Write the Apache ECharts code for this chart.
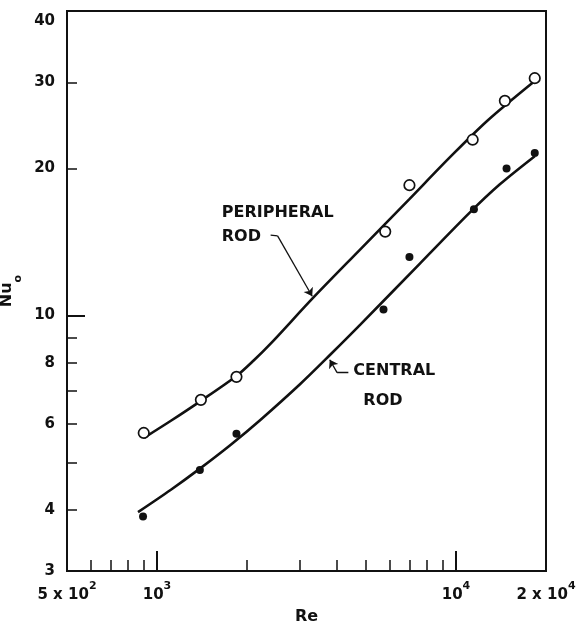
<!DOCTYPE html>
<html><head><meta charset="utf-8">
<script src="https://cdn.jsdelivr.net/npm/echarts@6/dist/echarts.min.js"></script>
<style>html,body{margin:0;padding:0;background:#fff}#c{width:579px;height:627px}</style>
</head><body><div id="c"></div>
<script>
// Measured data (Re, Nu0)
const peripheralRe = [903, 1402, 1844, 5798, 6987, 11370, 14570, 18340];
const peripheralNu = [5.75, 6.72, 7.49, 14.85, 18.48, 22.9, 27.5, 30.6];
const centralRe = [898, 1391, 1844, 5722, 6987, 11480, 14760, 18340];
const centralNu = [3.88, 4.83, 5.73, 10.29, 13.17, 16.5, 20.0, 21.5];
// Fitted curves
const peripheralCurveRe = [905, 1113, 1402, 1848, 2105, 2399, 3337, 4786, 6971, 9550, 12785, 18340];
const peripheralCurveNu = [5.62, 6.09, 6.69, 7.53, 8.09, 8.76, 10.89, 13.66, 17.29, 21.09, 25.1, 30.2];
const centralCurveRe = [864, 1113, 1391, 1765, 2221, 3020, 3802, 4786, 7586, 11135, 14020, 18340];
const centralCurveNu = [3.96, 4.40, 4.86, 5.44, 6.12, 7.25, 8.32, 9.58, 12.79, 16.26, 18.56, 21.19];
// Axis ticks and labels
const xLabelValues = [500, 1000, 10000, 20000];
const xLabelBase = ['5 x 10', '10', '10', '2 x 10'];
const xLabelExp = ['2', '3', '4', '4'];
const xMajorTicks = [1000, 10000];
const xMinorTicks = [600, 700, 800, 900, 2000, 3000, 4000, 5000, 6000, 7000, 8000, 9000];
const yLabelValues = [3, 4, 6, 8, 10, 20, 30, 40];
const yMajorTicks = [10];
const yMinorTicks = [4, 5, 6, 7, 8, 9, 20, 30];
// Annotations (data-space anchors)
const annotText = ['PERIPHERAL', 'ROD', 'CENTRAL', 'ROD'];
const annotRe = [1647, 1647, 4536, 4898];
const annotNu = [16.19, 14.52, 7.71, 6.69];
const leaderPeripheralRe = [2399, 2531, 3304];
const leaderPeripheralNu = [14.6, 14.55, 10.95];
const leaderCentralRe = [4365, 4002, 3782];
const leaderCentralNu = [7.65, 7.64, 8.12];

const zip = (a, b) => a.map((v, i) => [v, b[i]]);
const INK = '#111';
const FONT = 'DejaVu Sans';
const X_MIN = 500, X_MAX = 20000, Y_MIN = 3, Y_MAX = 42;

const chart = echarts.init(document.getElementById('c'), null, {renderer: 'canvas'});
const labelStyle = {color: INK, fontFamily: FONT, fontWeight: 'bold', fontSize: 15};

// leader segments: plain part(s) and final arrowed part
function segs(re, nu) {
  const out = [];
  for (let i = 0; i < re.length - 1; i++) out.push({coords: [[re[i], nu[i]], [re[i + 1], nu[i + 1]]]});
  return out;
}
const pSegs = segs(leaderPeripheralRe, leaderPeripheralNu);
const cSegs = segs(leaderCentralRe, leaderCentralNu);
const plainSegs = pSegs.slice(0, -1).concat(cSegs.slice(0, -1));
const arrowSegs = [pSegs[pSegs.length - 1], cSegs[cSegs.length - 1]];

chart.setOption({
  animation: false,
  backgroundColor: '#fff',
  grid: {left: 67, right: 33, top: 11, bottom: 56, show: true, borderColor: INK, borderWidth: 2,
         backgroundColor: 'transparent', outerBoundsMode: 'none'},
  xAxis: [
    {type: 'log', min: X_MIN, max: X_MAX, position: 'bottom',
     axisLine: {show: true, onZero: false, lineStyle: {color: INK, width: 2}},
     axisTick: {show: true, inside: true, length: 20, customValues: xMajorTicks, lineStyle: {color: INK, width: 2}},
     axisLabel: {show: true, margin: 10, customValues: xLabelValues,
       formatter: v => { const i = xLabelValues.findIndex(x => Math.abs(x - v) / x < 1e-6); return i < 0 ? '' : '{m|' + xLabelBase[i] + '}{s|' + xLabelExp[i] + '}'; },
       rich: {m: Object.assign({}, labelStyle, {lineHeight: 22, verticalAlign: 'bottom'}),
              s: Object.assign({}, labelStyle, {fontSize: 11, lineHeight: 22, verticalAlign: 'top'})}},
     splitLine: {show: false},
     name: 'Re', nameLocation: 'middle', nameGap: 38,
     nameTextStyle: Object.assign({}, labelStyle, {fontSize: 16})},
    {type: 'log', min: X_MIN, max: X_MAX, position: 'bottom',
     axisLine: {show: false, onZero: false},
     axisTick: {show: true, inside: true, length: 11, customValues: xMinorTicks, lineStyle: {color: INK, width: 1.5}},
     axisLabel: {show: false}, splitLine: {show: false}}
  ],
  yAxis: [
    {type: 'log', min: Y_MIN, max: Y_MAX, position: 'left',
     axisLine: {show: true, onZero: false, lineStyle: {color: INK, width: 2}},
     axisTick: {show: true, inside: true, length: 18, customValues: yMajorTicks, lineStyle: {color: INK, width: 2}},
     axisLabel: Object.assign({show: true, margin: 12, customValues: yLabelValues,
       formatter: v => String(Math.round(v))}, labelStyle),
     splitLine: {show: false},
     name: '{a|Nu}{b|o}', nameLocation: 'middle', nameGap: 36, nameRotate: 90,
     nameTextStyle: {rich: {a: Object.assign({}, labelStyle, {fontSize: 16, lineHeight: 24, verticalAlign: 'top'}),
                            b: Object.assign({}, labelStyle, {fontSize: 11, lineHeight: 24, verticalAlign: 'bottom'})}}},
    {type: 'log', min: Y_MIN, max: Y_MAX, position: 'left',
     axisLine: {show: false, onZero: false},
     axisTick: {show: true, inside: true, length: 10, customValues: yMinorTicks, lineStyle: {color: INK, width: 1.5}},
     axisLabel: {show: false}, splitLine: {show: false}}
  ],
  series: [
    {type: 'line', name: 'peripheral fit', data: zip(peripheralCurveRe, peripheralCurveNu),
     showSymbol: false, smooth: 0.3, lineStyle: {color: INK, width: 2.6}, z: 2},
    {type: 'line', name: 'central fit', data: zip(centralCurveRe, centralCurveNu),
     showSymbol: false, smooth: 0.3, lineStyle: {color: INK, width: 2.6}, z: 2},
    {type: 'scatter', name: 'peripheral rod', data: zip(peripheralRe, peripheralNu),
     symbol: 'circle', symbolSize: 10.5, itemStyle: {color: '#fff', borderColor: INK, borderWidth: 1.7, opacity: 1}, z: 4},
    {type: 'scatter', name: 'central rod', data: zip(centralRe, centralNu),
     symbol: 'circle', symbolSize: 8, itemStyle: {color: INK, opacity: 1}, z: 4},
    {type: 'lines', coordinateSystem: 'cartesian2d', z: 5, symbol: ['none', 'none'],
     lineStyle: {color: INK, width: 1.3, opacity: 1}, data: plainSegs},
    {type: 'lines', coordinateSystem: 'cartesian2d', z: 5, symbol: ['none', 'arrow'], symbolSize: [1, 8],
     itemStyle: {color: INK, opacity: 1},
     lineStyle: {color: INK, width: 1.3, opacity: 1}, data: arrowSegs},
    {type: 'scatter', symbolSize: 0, z: 5, silent: true, itemStyle: {opacity: 1},
     data: annotText.map((t, i) => [annotRe[i], annotNu[i], t]),
     label: {show: true, position: 'right', distance: 0, formatter: p => p.value[2], opacity: 1,
             color: INK, fontFamily: FONT, fontWeight: 'bold', fontSize: 16}}
  ]
});
</script></body></html>
